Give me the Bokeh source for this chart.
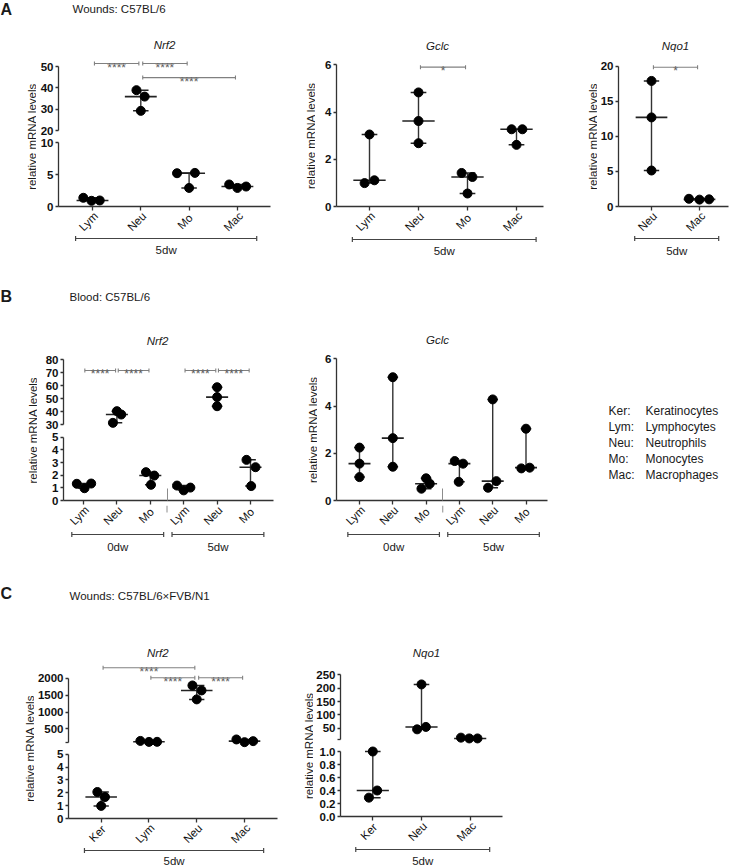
import math
import numpy as np
from bokeh.plotting import figure
from bokeh.layouts import row, column
from bokeh.models import Range1d, FixedTicker, Spacer
from bokeh.core.properties import value
from bokeh.embed import file_html
from bokeh.resources import INLINE

FONT = "Liberation Sans"
INK = "#1a1a1a"
AXC = "#333333"
SIGC = "#808080"

# ---------------- data ----------------
# Panel A: Wounds C57BL/6, 5 days after wounding
a_nrf2_cats = ["Lym", "Neu", "Mo", "Mac"]
a_nrf2_vals = [[1.36, 0.89, 0.94], [38.9, 35.9, 29.2], [5.2, 5.25, 2.9], [3.44, 2.9, 3.12]]
a_nrf2_jit = [[-0.19, -0.02, 0.15], [-0.09, 0.08, 0.0], [-0.25, 0.12, 0.0], [-0.17, 0.0, 0.18]]
a_nrf2_sig = [(0, 1, 51.4, "****"), (1, 2, 51.4, "****"), (1, 3, 44.8, "****")]
a_nrf2_top_ticks = [20, 30, 40, 50]
a_nrf2_bot_ticks = [0, 5, 10]

a_gclc_cats = ["Lym", "Neu", "Mo", "Mac"]
a_gclc_vals = [[3.05, 0.99, 1.11], [4.83, 3.62, 2.68], [1.42, 1.25, 0.55], [3.27, 3.27, 2.61]]
a_gclc_jit = [[0.0, -0.1, 0.1], [0.0, 0.0, 0.0], [-0.12, 0.1, 0.0], [-0.1, 0.12, 0.0]]
a_gclc_sig = [(1, 2, 5.9, "*")]
a_gclc_ticks = [0, 2, 4, 6]

a_nqo1_cats = ["Neu", "Mac"]
a_nqo1_vals = [[17.9, 12.7, 5.13], [1.1, 0.98, 1.02]]
a_nqo1_jit = [[0.0, 0.0, 0.0], [-0.22, 0.0, 0.2]]
a_nqo1_sig = [(0, 1, 19.86, "*")]
a_nqo1_ticks = [0, 5, 10, 15, 20]

a_groups = [("5dw", 0, 3)]
a_nqo1_groups = [("5dw", 0, 1)]

# Panel B: Blood C57BL/6, 0 and 5 days after wounding
b_cats = ["Lym", "Neu", "Mo", "Lym", "Neu", "Mo"]
b_groups = [("0dw", 0, 2), ("5dw", 3, 5)]
b_nrf2_vals = [[1.32, 0.97, 1.34], [40.5, 37.9, 31.5], [2.24, 1.97, 1.24],
               [1.18, 0.8, 1.02], [58.9, 51.3, 44.3], [3.21, 2.63, 1.14]]
b_nrf2_jit = [[-0.2, 0.03, 0.23], [0.0, 0.13, -0.12], [-0.13, 0.12, 0.02],
              [-0.2, 0.0, 0.2], [0.0, 0.0, 0.0], [-0.12, 0.15, 0.02]]
b_nrf2_sig = [(0, 1, 71.8, "****"), (1, 2, 71.8, "****"), (3, 4, 71.8, "****"), (4, 5, 71.8, "****")]
b_nrf2_top_ticks = [30, 40, 50, 60, 70, 80]
b_nrf2_bot_ticks = [0, 1, 2, 3, 4, 5]

b_gclc_vals = [[2.24, 1.56, 0.99], [5.22, 2.64, 1.43], [0.94, 0.71, 0.50],
               [1.67, 1.56, 0.79], [4.28, 0.54, 0.82], [3.04, 1.36, 1.39]]
b_gclc_jit = [[0.0, 0.0, 0.0], [0.0, 0.0, 0.0], [0.0, 0.11, -0.14],
              [-0.14, 0.11, -0.02], [0.0, -0.14, 0.11], [0.0, -0.14, 0.11]]
b_gclc_ticks = [0, 2, 4, 6]

legend_abbr = ["Ker:", "Lym:", "Neu:", "Mo:", "Mac:"]
legend_full = ["Keratinocytes", "Lymphocytes", "Neutrophils", "Monocytes", "Macrophages"]

# Panel C: Wounds C57BL/6xFVB/N1, 5 days after wounding
c_nrf2_cats = ["Ker", "Lym", "Neu", "Mac"]
c_nrf2_vals = [[2.06, 1.67, 0.98], [147, 118, 120], [1785, 1638, 1374], [190, 110, 140]]
c_nrf2_jit = [[-0.08, 0.08, 0.0], [-0.18, 0.0, 0.17], [-0.09, 0.1, 0.0], [-0.17, 0.0, 0.18]]
c_nrf2_sig = [(0, 2, 2307, "****"), (1, 2, 2012, "****"), (2, 3, 2012, "****")]
c_nrf2_top_ticks = [500, 1000, 1500, 2000]
c_nrf2_bot_ticks = [0, 1, 2, 3, 4, 5]

c_nqo1_cats = ["Ker", "Neu", "Mac"]
c_nqo1_vals = [[1.0, 0.29, 0.40], [214, 46, 55], [15, 12, 12]]
c_nqo1_jit = [[0.0, -0.08, 0.09], [0.0, -0.09, 0.09], [-0.19, -0.02, 0.15]]
c_nqo1_sig = []
c_nqo1_top_ticks = [50, 100, 150, 200, 250]
c_nqo1_bot_ticks = [0, 0.2, 0.4, 0.6, 0.8, 1.0]
c_nqo1_bot_labels = ["0.0", "0.2", "0.4", "0.6", "0.8", "1.0"]
c_groups = [("5dw", 0, 3)]
c_nqo1_groups = [("5dw", 0, 2)]

YLABEL = "relative mRNA levels"
PAGE_W = 743
XLAB_SIZE = 11.5


# ---------------- helpers ----------------
def txt(f, x, y, s, size, style="normal", align="left", baseline="middle", angle=0.0, color=INK):
    f.text(x=[x], y=[y], text=[s], text_font=value(FONT), text_font_size=f"{size}px",
           text_font_style=style, text_align=align, text_baseline=baseline,
           angle=angle, angle_units="deg", text_color=color)


def pix_fig(w, h):
    f = figure(width=w, height=h, x_range=Range1d(0, w), y_range=Range1d(0, h),
               min_border_left=0, min_border_right=0, min_border_top=0, min_border_bottom=0,
               x_axis_location=None, y_axis_location=None,
               output_backend="svg", toolbar_location=None)
    f.outline_line_color = None
    f.grid.visible = False
    return f


def seg_map(s, py):
    return s["lo"] + (s["py_lo"] - py) * (s["hi"] - s["lo"]) / (s["py_lo"] - s["py_hi"])


def ppu(s):
    return (s["py_lo"] - s["py_hi"]) / (s["hi"] - s["lo"])


def make_block(cats, vals, jit, sig, groups, title, segs, g):
    n = len(cats)
    wl = 10
    br = 4
    xb = 5
    L, ax, rx, t0, unit = g["L"], g["axis_x"], g["right_x"], g["tick0_x"], g["unit"]
    T, R = g["T"], g["R"]
    xr = Range1d((ax - t0) / unit, (rx - t0) / unit)
    bl = ax - (L + wl)
    fw = rx - ax
    W = bl + fw + br
    nseg = len(segs)
    tops, bots = [], []
    for k, s in enumerate(segs):
        tops.append(T if k == 0 else int(round((segs[k - 1]["py_lo"] + s["py_hi"]) / 2)))
        bots.append(int(round(s["py_lo"])) if k == nseg - 1
                    else int(round((s["py_lo"] + segs[k + 1]["py_hi"]) / 2)))
    axis_y = bots[-1]

    def seg_of(v):
        for k, s in enumerate(segs):
            if v >= s["lo"] - 1e-9:
                return k
        return nseg - 1

    figs = []
    for k, s in enumerate(segs):
        last = k == nseg - 1
        fh = bots[k] - tops[k]
        f = figure(width=W, height=fh + (xb if last else 0), x_range=xr,
                   y_range=Range1d(seg_map(s, bots[k]), seg_map(s, tops[k])),
                   min_border_left=bl, min_border_right=br, min_border_top=0,
                   min_border_bottom=(xb if last else 0),
                   x_axis_location=("below" if last else None), y_axis_location="left",
                   output_backend="svg", toolbar_location=None)
        f.outline_line_color = None
        f.grid.visible = False
        ya = f.yaxis[0]
        ya.bounds = (s["lo"], s["hi"])
        ends = [s["lo"]] if s["lo"] not in s["ticks"] else []
        ya.ticker = FixedTicker(ticks=s["ticks"], minor_ticks=ends)
        if "labels" in s:
            ya.major_label_overrides = {t: lab for t, lab in zip(s["ticks"], s["labels"])}
        ya.axis_line_color = AXC
        ya.axis_line_width = 1.3
        ya.major_tick_line_color = AXC
        ya.major_tick_line_width = 1.3
        ya.minor_tick_line_color = AXC
        ya.minor_tick_line_width = 1.3
        ya.major_tick_in = 0
        ya.major_tick_out = 3
        ya.minor_tick_in = 0
        ya.minor_tick_out = 3
        ya.major_label_standoff = 2
        ya.major_label_text_font = FONT
        ya.major_label_text_font_size = "11.5px"
        ya.major_label_text_font_style = "bold"
        ya.major_label_text_color = "#111111"
        if last:
            xa = f.xaxis[0]
            xa.ticker = FixedTicker(ticks=list(range(n)), minor_ticks=g.get("minor", []))
            xa.axis_line_color = AXC
            xa.axis_line_width = 1.3
            xa.major_tick_line_color = AXC
            xa.major_tick_line_width = 1.3
            xa.major_tick_in = 0
            xa.major_tick_out = 4
            xa.minor_tick_in = 12
            xa.minor_tick_out = 0
            xa.minor_tick_line_color = "#8c8c8c"
            xa.minor_tick_line_width = 1
            xa.major_label_standoff = 0
            xa.major_label_text_font_size = "0px"
            xa.major_label_text_color = None
        figs.append(f)

    # data marks: points, median, range and caps
    for i in range(n):
        v = vals[i]
        med = float(np.median(v))
        lo, hi = min(v), max(v)
        f = figs[seg_of(med)]
        f.segment(x0=[i - 0.33], y0=[med], x1=[i + 0.33], y1=[med], line_color="#222222", line_width=1.6)
        f.segment(x0=[i], y0=[lo], x1=[i], y1=[hi], line_color="#333333", line_width=1.4)
        f.segment(x0=[i - 0.16, i - 0.16], y0=[lo, hi], x1=[i + 0.16, i + 0.16], y1=[lo, hi],
                  line_color="#222222", line_width=1.5)
        for val, dj in zip(v, jit[i]):
            figs[seg_of(val)].scatter(x=[i + dj], y=[val], size=9, color="#000000")

    # significance brackets
    for (i, j, lev, s_txt) in sig:
        k = seg_of(lev)
        f = figs[k]
        p = ppu(segs[k])
        x1, x2 = i + 0.04, j - 0.04
        f.segment(x0=[x1, x1, x2], y0=[lev, lev - 2 / p, lev - 2 / p],
                  x1=[x2, x1, x2], y1=[lev, lev + 2 / p, lev + 2 / p],
                  line_color=SIGC, line_width=1.1)
        txt(f, (i + j) / 2, lev - 4 / p, s_txt, 12, align="center", baseline="alphabetic",
            color="#5e5e5e")

    # title
    tx = (g["title_x"] - t0) / unit
    txt(figs[0], tx, seg_map(segs[0], g["title_y"]), title, 11.5, style="italic", align="center")

    # strip below the axis (same x scale as the plot; y in the same unit so angles are kept)
    gtop = axis_y + xb
    hg = R - gtop
    gf = figure(width=W, height=hg, x_range=xr, y_range=Range1d(0, hg / unit),
                min_border_left=bl, min_border_right=br, min_border_top=0, min_border_bottom=0,
                x_axis_location=None, y_axis_location=None,
                output_backend="svg", toolbar_location=None)
    gf.outline_line_color = None
    gf.grid.visible = False

    def gy(page_y):
        return (hg - (page_y - gtop)) / unit

    for i, c in enumerate(cats):
        txt(gf, i - 4.0 / unit, gy(axis_y + 15), c, XLAB_SIZE, align="center", angle=45,
            color="#111111")
    for mx in g.get("minor", []):
        gf.segment(x0=[mx], y0=[gy(gtop)], x1=[mx], y1=[gy(axis_y + 12)],
                   line_color="#8c8c8c", line_width=1)
    yl = gy(g["gline"])
    tk = 2.5 / unit
    for (lab, a, b) in groups:
        x0, x1 = a - 0.35, b + 0.4
        gf.segment(x0=[x0, x0, x1], y0=[yl, yl - tk, yl - tk], x1=[x1, x0, x1], y1=[yl, yl + tk, yl + tk],
                   line_color="#444444", line_width=1.2)
        txt(gf, (x0 + x1) / 2, gy(g["glabel"]), lab, 11.5, align="center")

    # y-axis title, centred on the whole (possibly broken) axis
    H = R - T
    yf = pix_fig(wl, H)
    cy = (segs[0]["py_hi"] + axis_y) / 2
    txt(yf, wl / 2, H - (cy - T), YLABEL, 11.5, align="center", angle=90)

    lay = row(yf, column(*figs, gf))
    return (L, wl + W, lay)


def assemble(blocks, H, extra=None):
    items = []
    x = 0
    for (L, Wb, lay) in blocks:
        if L - x > 0:
            items.append(Spacer(width=L - x, height=H))
        items.append(lay)
        x = L + Wb
    if extra is not None:
        xs, ext = extra
        if xs - x > 0:
            items.append(Spacer(width=xs - x, height=H))
        items.append(ext)
    return row(*items)


def header(top, bottom, letter, letter_y, sub, sub_x, sub_y):
    h = bottom - top
    f = pix_fig(PAGE_W, h)
    txt(f, 0, h - (letter_y - top), letter, 16, style="bold")
    txt(f, sub_x, h - (sub_y - top), sub, 11.5)
    return f


# ---------------- panel A ----------------
TA, RA = 36, 258
A1 = make_block(a_nrf2_cats, a_nrf2_vals, a_nrf2_jit, a_nrf2_sig, a_groups, "Nrf2",
                [dict(lo=20, hi=50, py_lo=130, py_hi=66, ticks=a_nrf2_top_ticks),
                 dict(lo=0, hi=10, py_lo=206, py_hi=142, ticks=a_nrf2_bot_ticks)],
                dict(L=26, axis_x=58, right_x=270, tick0_x=92, unit=48.3, T=TA, R=RA,
                     title_x=164, title_y=44, gline=238, glabel=249))
A2 = make_block(a_gclc_cats, a_gclc_vals, a_gclc_jit, a_gclc_sig, a_groups, "Gclc",
                [dict(lo=0, hi=6, py_lo=206, py_hi=64.3, ticks=a_gclc_ticks)],
                dict(L=305, axis_x=336, right_x=543, tick0_x=369, unit=49, T=TA, R=RA,
                     title_x=437, title_y=45, gline=239, glabel=250))
A3 = make_block(a_nqo1_cats, a_nqo1_vals, a_nqo1_jit, a_nqo1_sig, a_nqo1_groups, "Nqo1",
                [dict(lo=0, hi=20, py_lo=206, py_hi=65.7, ticks=a_nqo1_ticks)],
                dict(L=587, axis_x=618, right_x=728, tick0_x=651, unit=48, T=TA, R=RA,
                     title_x=675, title_y=45, gline=238, glabel=250))
hdrA = header(0, TA, "A", 9, "Wounds: C57BL/6", 72, 8)
rowA = assemble([A1, A2, A3], RA - TA)

# ---------------- panel B ----------------
TB, RB = 331, 553
B1 = make_block(b_cats, b_nrf2_vals, b_nrf2_jit, b_nrf2_sig, b_groups, "Nrf2",
                [dict(lo=30, hi=80, py_lo=424.3, py_hi=359.3, ticks=b_nrf2_top_ticks),
                 dict(lo=0, hi=5, py_lo=500, py_hi=436.7, ticks=b_nrf2_bot_ticks)],
                dict(L=27, axis_x=63, right_x=273, tick0_x=83, unit=33.4, T=TB, R=RB,
                     title_x=157, title_y=340, gline=534, glabel=546, minor=[2.5]))
B2 = make_block(b_cats, b_gclc_vals, b_gclc_jit, [], b_groups, "Gclc",
                [dict(lo=0, hi=6, py_lo=500, py_hi=358.3, ticks=b_gclc_ticks)],
                dict(L=307, axis_x=336, right_x=547, tick0_x=359, unit=33.3, T=TB, R=RB,
                     title_x=437, title_y=339, gline=534, glabel=546, minor=[2.5]))
LEG_X = 551
leg = pix_fig(PAGE_W - LEG_X, RB - TB)
for k, (ab, full) in enumerate(zip(legend_abbr, legend_full)):
    yy = (RB - TB) - (410 + 16 * k - TB)
    txt(leg, 608 - LEG_X, yy, ab, 12)
    txt(leg, 645 - LEG_X, yy, full, 12)
hdrB = header(RA, TB, "B", 296, "Blood: C57BL/6", 69, 296)
rowB = assemble([B1, B2], RB - TB, extra=(LEG_X, leg))

# ---------------- panel C ----------------
TC, RC = 644, 866
C1 = make_block(c_nrf2_cats, c_nrf2_vals, c_nrf2_jit, c_nrf2_sig, c_groups, "Nrf2",
                [dict(lo=100, hi=2000, py_lo=742, py_hi=677.7, ticks=c_nrf2_top_ticks),
                 dict(lo=0, hi=5, py_lo=818, py_hi=753.7, ticks=c_nrf2_bot_ticks)],
                dict(L=24, axis_x=64, right_x=277, tick0_x=97.3, unit=48.7, T=TC, R=RC,
                     title_x=155, title_y=652, gline=850, glabel=860))
C2 = make_block(c_nqo1_cats, c_nqo1_vals, c_nqo1_jit, c_nqo1_sig, c_nqo1_groups, "Nqo1",
                [dict(lo=8, hi=250, py_lo=739, py_hi=674.3, ticks=c_nqo1_top_ticks),
                 dict(lo=0, hi=1, py_lo=816, py_hi=751, ticks=c_nqo1_bot_ticks, labels=c_nqo1_bot_labels)],
                dict(L=303, axis_x=338, right_x=502, tick0_x=370.7, unit=49.3, T=TC, R=RC,
                     title_x=425, title_y=652, gline=849, glabel=860))
hdrC = header(RB, TC, "C", 593, "Wounds: C57BL/6\u00d7FVB/N1", 69, 595)
rowC = assemble([C1, C2], RC - TC)

p = column(hdrA, rowA, hdrB, rowB, hdrC, rowC)

open("out.html", "w").write(file_html(p, INLINE))
